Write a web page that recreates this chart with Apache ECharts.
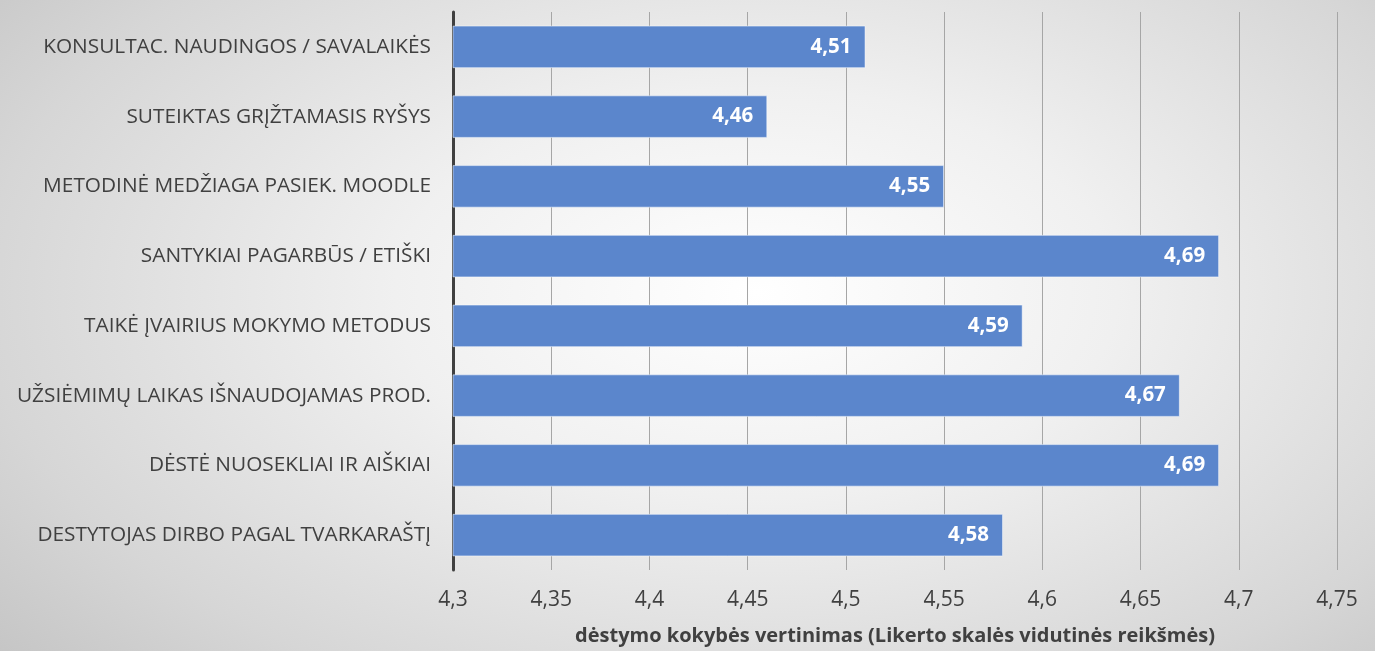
<!DOCTYPE html>
<html><head><meta charset="utf-8">
<script src="https://cdn.jsdelivr.net/npm/echarts@6/dist/echarts.min.js"></script>
<style>
html,body{margin:0;padding:0;}
#c{width:1375px;height:651px;background:radial-gradient(ellipse 75% 90% at 55% 45%, #ffffff 0%, #f0f0f0 35%, #d6d6d6 75%, #c2c2c2 100%);}
</style></head><body>
<div id="c"></div>
<script>
const categories = [
  "KONSULTAC. NAUDINGOS / SAVALAIKĖS",
  "SUTEIKTAS GRĮŽTAMASIS RYŠYS",
  "METODINĖ MEDŽIAGA PASIEK. MOODLE",
  "SANTYKIAI PAGARBŪS / ETIŠKI",
  "TAIKĖ ĮVAIRIUS MOKYMO METODUS",
  "UŽSIĖMIMŲ LAIKAS IŠNAUDOJAMAS PROD.",
  "DĖSTĖ NUOSEKLIAI IR AIŠKIAI",
  "DESTYTOJAS DIRBO PAGAL TVARKARAŠTĮ"
];
const values = [4.51, 4.46, 4.55, 4.69, 4.59, 4.67, 4.69, 4.58];
const axisTitle = "dėstymo kokybės vertinimas (Likerto skalės vidutinės reikšmės)";
const fmt = v => String(Math.round(v*100)/100).replace('.', ',');

const chart = echarts.init(document.getElementById('c'), null, {renderer:'canvas'});
chart.setOption({
  backgroundColor: 'transparent',
  textStyle: {fontFamily: '"Open Sans", sans-serif'},
  grid: {left: 453, right: 38, top: 12, bottom: 80, containLabel: false},
  xAxis: {
    type: 'value', min: 4.3, max: 4.75, interval: 0.05,
    axisLine: {show: false},
    axisTick: {show: false},
    splitLine: {show: true, lineStyle: {color: '#a6a6a6', width: 1}},
    axisLabel: {color: '#404040', fontSize: 21, margin: 20, formatter: v => fmt(v)},
    name: axisTitle, nameLocation: 'middle', nameGap: 56,
    nameTextStyle: {color: '#404040', fontSize: 20, fontWeight: 'bold'}
  },
  yAxis: {
    type: 'category', data: categories, inverse: true,
    axisLine: {show: true, lineStyle: {color: '#404040', width: 3}},
    axisTick: {show: false},
    axisLabel: {color: '#404040', fontSize: 20.8, margin: 22}
  },
  series: [{
    type: 'bar', data: values, barWidth: '61%',
    itemStyle: {color: '#5b86cc', borderColor: 'rgba(255,255,255,0.5)', borderWidth: 1},
    label: {show: true, position: 'insideRight', distance: 14, color: '#ffffff', fontSize: 20.5, fontWeight: 'bold', formatter: p => fmt(p.value)}
  }]
});
</script></body></html>
